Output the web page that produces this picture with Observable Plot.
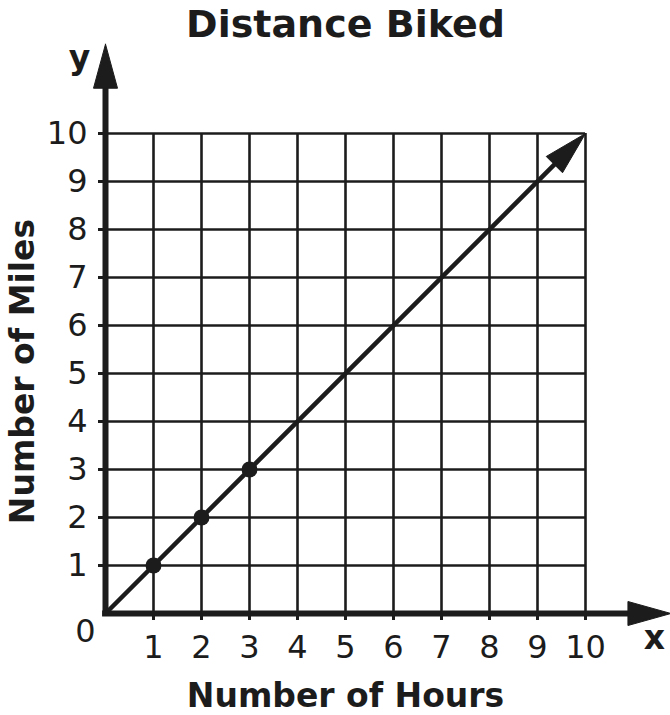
<!DOCTYPE html>
<html><head><meta charset="utf-8">
<script src="https://cdn.jsdelivr.net/npm/d3@7"></script>
<script src="https://cdn.jsdelivr.net/npm/@observablehq/plot@0.6"></script>
<style>body{margin:0;background:#fff}</style>
</head><body><div id="chart"></div>
<script>
const title = "Distance Biked";
const xLabel = "Number of Hours";
const yLabel = "Number of Miles";
const xAxisName = "x";
const yAxisName = "y";
const xTicks = [1, 2, 3, 4, 5, 6, 7, 8, 9, 10];
const yTicks = [1, 2, 3, 4, 5, 6, 7, 8, 9, 10];
const originLabel = "0";
const pointHours = [1, 2, 3];
const pointMiles = [1, 2, 3];
const lineHours = [0, 10];
const lineMiles = [0, 10];

const ink = "#1c1c1c";
const U = 48; // px per data unit (equal on both axes)
function head(tx, ty, dx, dy, lenPx, hwPx) {
  const n = Math.hypot(dx, dy); dx /= n; dy /= n;
  const L = lenPx / U, H = hwPx / U;
  const bx = tx - dx * L, by = ty - dy * L;
  return {
    tri: [{x: tx, y: ty}, {x: bx - dy * H, y: by + dx * H}, {x: bx + dy * H, y: by - dx * H}, {x: tx, y: ty}],
    base: {x: bx, y: by}
  };
}
const xMax = xTicks[xTicks.length - 1], yMax = yTicks[yTicks.length - 1];
const xArrow = head(xMax + 1.78, 0, 1, 0, 43, 12);
const yArrow = head(0, yMax + 1.86, 0, 1, 44, 12);
const dArrow = head(lineHours[1], lineMiles[1], lineHours[1] - lineHours[0], lineMiles[1] - lineMiles[0], 44, 11.5);
const linePts = [{x: lineHours[0], y: lineMiles[0]}, {x: dArrow.base.x + 0.05, y: dArrow.base.y + 0.05}];
const points = pointHours.map((h, i) => ({x: h, y: pointMiles[i]}));

const chart = Plot.plot({
  width: 670, height: 715,
  marginTop: 133, marginBottom: 102, marginLeft: 105, marginRight: 85,
  x: {domain: [0, 10]}, y: {domain: [0, 10]},
  style: {fontFamily: "'DejaVu Sans', Verdana, sans-serif", color: ink, background: "#fff", overflow: "visible"},
  marks: [
    Plot.ruleX(xTicks, {x: d => d, y1: 0, y2: yMax, stroke: ink, strokeWidth: 2.6}),
    Plot.ruleY(yTicks, {y: d => d, x1: 0, x2: xMax, stroke: ink, strokeWidth: 2.6}),
    Plot.ruleY([0], {y: d => d, x1: -0.06, x2: xArrow.base.x + 0.05, stroke: ink, strokeWidth: 6}),
    Plot.ruleX([0], {x: d => d, y1: -0.06, y2: yArrow.base.y + 0.05, stroke: ink, strokeWidth: 6}),
    Plot.line(xArrow.tri, {x: "x", y: "y", fill: ink, stroke: ink, strokeWidth: 1}),
    Plot.line(yArrow.tri, {x: "x", y: "y", fill: ink, stroke: ink, strokeWidth: 1}),
    Plot.line(linePts, {x: "x", y: "y", stroke: ink, strokeWidth: 4.5}),
    Plot.line(dArrow.tri, {x: "x", y: "y", fill: ink, stroke: ink, strokeWidth: 1}),
    Plot.dot(points, {x: "x", y: "y", r: 8, fill: ink}),
    Plot.axisX({ticks: xTicks, tickSize: 7, tickPadding: 15, fontSize: 32, strokeWidth: 3, label: null}),
    Plot.axisY({ticks: yTicks, tickSize: 7, tickPadding: 11, fontSize: 32, strokeWidth: 3, label: null}),
    Plot.text([originLabel], {x: () => 0, y: () => 0, text: d => d, dx: -20, dy: 18, fontSize: 32}),
    Plot.text([title], {text: d => d, frameAnchor: "top", dy: -97, lineAnchor: "bottom", fontSize: 38, fontWeight: "bold"}),
    Plot.text([xLabel], {text: d => d, frameAnchor: "bottom", dy: 93, lineAnchor: "bottom", fontSize: 33, fontWeight: "bold"}),
    Plot.text([yLabel], {text: d => d, frameAnchor: "left", dx: -72, dy: -2, rotate: -90, textAnchor: "middle", lineAnchor: "bottom", fontSize: 33, fontWeight: "bold"}),
    Plot.text([yAxisName], {text: d => d, frameAnchor: "top-left", dx: -26, dy: -65, lineAnchor: "bottom", textAnchor: "middle", fontSize: 33, fontWeight: "bold"}),
    Plot.text([xAxisName], {text: d => d, frameAnchor: "bottom-right", dx: 69, dy: 35, lineAnchor: "bottom", textAnchor: "middle", fontSize: 33, fontWeight: "bold"})
  ]
});
document.getElementById("chart").append(chart);
</script>
</body></html>
